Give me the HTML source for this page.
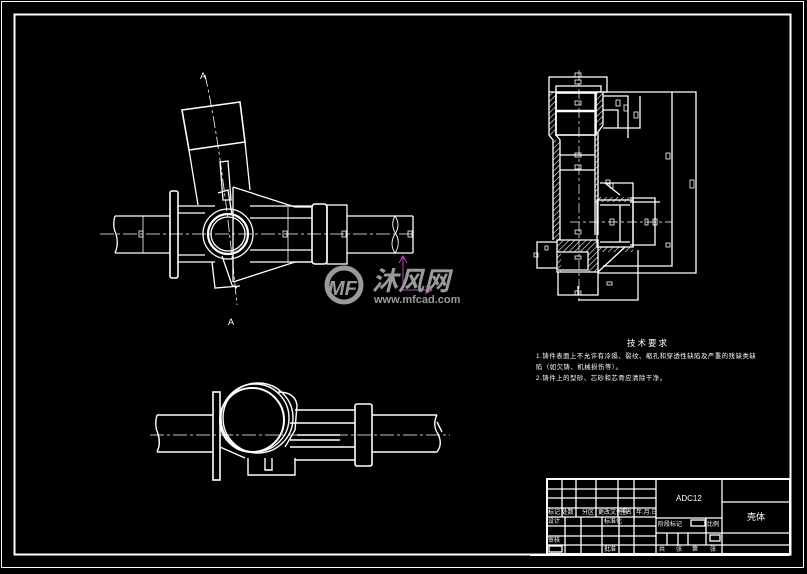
<!DOCTYPE html>
<html><head><meta charset="utf-8"><style>
html,body{margin:0;padding:0;background:#000;}
svg{display:block}
text{font-family:"Liberation Sans","Noto Sans CJK SC",sans-serif;fill:#fff}
</style></head><body>
<svg width="807" height="574" viewBox="0 0 807 574" xmlns="http://www.w3.org/2000/svg">
<rect width="807" height="574" fill="#000"/>
<rect x="1.5" y="1.5" width="802" height="566" fill="none" stroke="#fff" stroke-width="1"/>
<rect x="14.5" y="14.5" width="776" height="540" fill="none" stroke="#fff" stroke-width="2"/>

<!-- LEFT VIEW -->
<g stroke="#fff" fill="none" stroke-width="1.3">
<line x1="100" y1="234" x2="416" y2="234" stroke-width="0.8" stroke-dasharray="14,3,3,3"/>
<path d="M115 216 L170 216 M115 253 L170 253 M115 216 Q112 225 116 234 Q119 244 115 253"/>
<line x1="143" y1="216" x2="143" y2="253" stroke-width="0.8"/>
<rect x="170" y="191" width="8" height="87" rx="2" stroke-width="1.6"/>
<path d="M178 206 L215 206 M178 262 L215 262 M178 213 L205 213 M178 255 L205 255"/>
<circle cx="228" cy="234" r="25"/>
<circle cx="228" cy="234" r="20" stroke-width="2.2"/>
<circle cx="228" cy="234" r="17"/>
<path d="M233 187 L295 207 L312 207 M233 282 L295 262 L312 262 M233 187 L233 282"/>
<path d="M250 206 L312 206 M250 262 L312 262 M250 218 L312 218 M250 250 L312 250"/>
<line x1="288" y1="207" x2="288" y2="262" stroke-width="0.8"/>
<rect x="312" y="204" width="15" height="60" rx="3" stroke-width="1.6"/>
<rect x="327" y="205" width="20" height="59"/>
<path d="M347 216 L413 216 M347 253 L413 253 M413 216 L413 253"/>
<path d="M395 216 Q390 225 396 234 Q401 244 395 253 M395 216 Q401 225 395 234 Q389 244 395 253" stroke-width="0.9"/>
<path d="M182 110 L240 102 L245 142 L189 150 Z" stroke-width="1.6"/>
<path d="M189 150 L198 205 M245 142 L250 190"/>
<path d="M220 162 L228 161 L231 200 L223 200 Z"/>
<path d="M218 193 L228 190 L232 215 M222 256 L232 285 L237 288"/>
<path d="M212 262 L215 288 L240 286"/>
<path d="M205 75 Q222 150 237 305" stroke-width="0.8" stroke-dasharray="12,3,3,3"/>
<rect x="139" y="231" width="4" height="6" stroke-width="0.8"/>
<rect x="283" y="231" width="4" height="6" stroke-width="0.8"/>
<rect x="342" y="231" width="4" height="6" stroke-width="0.8"/>
<rect x="408" y="231" width="4" height="6" stroke-width="0.8"/>
</g>
<text x="200" y="79" font-size="9">A</text>
<text x="228" y="325" font-size="9">A</text>

<!-- magenta arrow -->
<g stroke="#c040c0" fill="none" stroke-width="1">
<path d="M403 256 L403 290 L432 290 M399 263 L403 256 L407 263 M425 286 L432 290 L425 294"/>
</g>
<!-- watermark -->
<g fill="#9a9a9a">
<circle cx="344" cy="285" r="17" fill="none" stroke="#9a9a9a" stroke-width="5"/>
<text x="328" y="295" font-size="20" font-weight="bold" font-style="italic" style="fill:#9a9a9a">MF</text>
<text x="372" y="290" font-size="26" font-weight="bold" font-style="italic" style="fill:#9a9a9a">沐风网</text>
<text x="374" y="303" font-size="11" font-weight="bold" style="fill:#9a9a9a">www.mfcad.com</text>
</g>

<!-- BOTTOM VIEW -->
<g stroke="#fff" fill="none" stroke-width="1.4">
<line x1="150" y1="435" x2="450" y2="435" stroke-width="0.8" stroke-dasharray="14,3,3,3"/>
<path d="M157 415 L213 415 M157 452 L213 452 M157 415 Q154 425 158 434 Q161 444 157 452"/>
<rect x="213" y="392" width="7" height="88" stroke-width="1.6"/>
<circle cx="252" cy="420" r="32" stroke-width="2"/>
<circle cx="255" cy="418" r="34"/>
<circle cx="258" cy="418" r="35"/>
<path d="M278 392 Q295 392 297 405 L295 430 L285 447 M220 447 L245 458"/>
<path d="M295 410 L355 410 M295 460 L355 460 M290 423 L355 423 M290 447 L355 447 M297 435 L340 435 M290 440 L340 440"/>
<rect x="355" y="404" width="17" height="62" rx="2" stroke-width="1.6"/>
<path d="M372 415 L437 415 M372 452 L437 452"/>
<path d="M437 415 Q432 425 438 434 Q443 444 437 452 M437 422 L442 432"/>
<path d="M248 458 L248 475 L295 475 L295 458 M265 458 L265 470 L272 470 L272 458"/>
</g>

<!-- RIGHT SECTION -->
<g stroke="#fff" fill="none" stroke-width="1.3">
<rect x="549" y="77" width="58" height="15"/>
<rect x="556" y="86" width="45" height="6"/>
<path d="M549 92 L549 135 L553 140 L553 240 M556 92 L556 132 M603 92 L603 125 L598 132 L598 235"/>
<path d="M556 92 L556 135 L560 140 L560 240 M595 92 L595 235"/>
<rect x="556" y="93" width="40" height="42" stroke-width="1.6"/>
<line x1="556" y1="111" x2="596" y2="111" stroke-width="2.5"/>
<path d="M560 155 L595 155 M560 170 L595 170"/>
<rect x="597" y="200" width="36" height="47"/>
<path d="M600 205 L630 205 M600 242 L630 242 M620 205 L620 242 M633 200 L633 247"/>
<path d="M600 183 L633 183 L633 200 M605 183 L620 195"/>
<path d="M557 240 L598 240 L598 272 L557 272 Z M558 252 L588 252 L588 270 L558 270"/>
<path d="M558 272 L558 295 L598 295 L598 272"/>
<path d="M598 272 L625 247"/>
<path d="M537 242 L557 242 L537 242 L537 268 L557 268"/>
<path d="M603 92 L696 92 L696 273 L598 273 M603 92 L672 92 M672 92 L672 266 L603 266"/>
<path d="M603 96 L628 96 L628 138 M603 110 L618 110 L618 128 M603 128 L640 128 L640 96"/>
<path d="M630 198 L655 198 L655 245 L630 245 M630 202 L660 202"/>
<path d="M578 295 L578 286 M578 300 L638 300 L638 250"/>
<line x1="579" y1="70" x2="579" y2="300" stroke-width="0.7" stroke-dasharray="10,3,3,3"/>
<line x1="570" y1="222" x2="672" y2="222" stroke-width="0.7" stroke-dasharray="10,3,3,3"/>
<g stroke-width="0.8">
<rect x="575" y="73" width="6" height="4"/><rect x="575" y="80" width="6" height="4"/><rect x="575" y="101" width="6" height="4"/>
<rect x="575" y="153" width="6" height="4"/><rect x="575" y="165" width="6" height="4"/><rect x="575" y="230" width="6" height="4"/>
<rect x="616" y="100" width="4" height="6"/><rect x="624" y="105" width="4" height="6"/><rect x="634" y="112" width="4" height="6"/>
<rect x="666" y="153" width="4" height="6"/><rect x="690" y="180" width="4" height="8"/><rect x="606" y="180" width="4" height="4"/>
<rect x="610" y="183" width="3" height="5"/><rect x="610" y="219" width="4" height="6"/><rect x="645" y="219" width="3" height="6"/><rect x="653" y="219" width="4" height="6"/>
<rect x="666" y="243" width="4" height="4"/><rect x="545" y="246" width="3" height="4"/><rect x="534" y="253" width="4" height="4"/>
<rect x="575" y="256" width="6" height="3"/><rect x="607" y="282" width="5" height="3"/><rect x="575" y="291" width="6" height="4"/>
</g>
</g>
<!-- hatching -->
<defs><pattern id="h" width="4" height="4" patternUnits="userSpaceOnUse" patternTransform="rotate(45)"><line x1="0" y1="0" x2="0" y2="4" stroke="#fff" stroke-width="1.2"/></pattern></defs>
<g fill="url(#h)">
<rect x="549" y="92" width="7" height="43"/><rect x="553" y="140" width="7" height="100"/>
<rect x="596" y="92" width="7" height="33"/><rect x="595" y="130" width="4" height="75"/>
<rect x="597" y="247" width="36" height="5"/><rect x="598" y="197" width="35" height="5"/>
<rect x="557" y="240" width="41" height="12"/><rect x="557" y="252" width="4" height="20"/><rect x="588" y="252" width="10" height="20"/>
</g>

<!-- tech requirements -->
<text x="627" y="346" font-size="8.5" letter-spacing="2">技术要求</text>
<text x="536" y="358" font-size="6.3" letter-spacing="0.6">1.铸件表面上不允许有冷隔、裂纹、缩孔和穿透性缺陷及严重的残缺类缺</text>
<text x="536" y="369" font-size="6.3" letter-spacing="0.6">陷（如欠铸、机械损伤等）。</text>
<text x="536" y="380" font-size="6.3" letter-spacing="0.6">2.铸件上的型砂、芯砂和芯骨应清除干净。</text>

<!-- title block -->
<g stroke="#fff" fill="none" stroke-width="1.3">
<rect x="547" y="479" width="243" height="75" stroke-width="2"/>
<line x1="530" y1="555" x2="790" y2="555" stroke-width="2"/>
<path d="M547 489 L656 489 M547 498 L656 498 M547 508 L656 508 M547 517 L656 517 M547 526 L656 526 M547 536 L656 536 M547 545 L656 545"/>
<path d="M562 479 L562 517 M576 479 L576 517 M596 479 L596 517 M618 479 L618 517 M634 479 L634 517"/>
<path d="M565 517 L565 554 M581 517 L581 554 M602 517 L602 554 M619 517 L619 554 M634 517 L634 554"/>
<rect x="549" y="546" width="13" height="6"/>
<path d="M656 479 L656 554 M722 479 L722 554 M722 502 L790 502 M722 533 L790 533 M722 545 L790 545"/>
<path d="M656 518 L722 518 M656 533 L722 533 M656 545 L722 545 M706 518 L706 545 M688 533 L688 545 M667 533 L667 545 M678 533 L678 545"/>
<rect x="691" y="520" width="14" height="6"/><rect x="710" y="535" width="10" height="6"/>
</g>
<g font-size="6">
<text x="548" y="514">标记 处数</text><text x="582" y="514">分区</text><text x="598" y="514">更改文件号</text><text x="620" y="514">签名</text><text x="636" y="514">年.月.日</text>
<text x="548" y="523">设计</text><text x="604" y="523">标准化</text>
<text x="548" y="542">审核</text><text x="604" y="551">批准</text>
<text x="658" y="526">阶段标记</text><text x="707" y="526">比例</text>
<text x="659" y="551">共</text><text x="676" y="551">张</text><text x="692" y="551">第</text><text x="710" y="551">张</text>
</g>
<text x="676" y="501" font-size="8">ADC12</text>
<text x="747" y="520" font-size="9">壳体</text>
</svg>
</body></html>
